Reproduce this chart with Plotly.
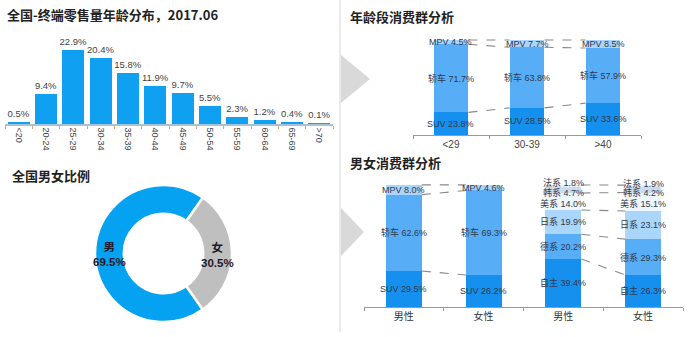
import math
import plotly.graph_objects as go

W, H = 688, 337

# ---------------- data ----------------
age_groups = ['<20', '20-24', '25-29', '30-34', '35-39', '40-44', '45-49',
              '50-54', '55-59', '60-64', '65-69', '>70']
age_share = [0.5, 9.4, 22.9, 20.4, 15.8, 11.9, 9.7, 5.5, 2.3, 1.2, 0.4, 0.1]

seg_groups = ['<29', '30-39', '>40']
seg_suv = [23.8, 28.5, 33.6]
seg_sedan = [71.7, 63.8, 57.9]
seg_mpv = [4.5, 7.7, 8.5]

gender_labels = ['男性', '女性']
gender_suv = [29.5, 26.2]
gender_sedan = [62.6, 69.3]
gender_mpv = [8.0, 4.6]

brand_names = ['自主', '德系', '日系', '美系', '韩系', '法系']
brand_male = [39.4, 20.2, 19.9, 14.0, 4.7, 1.8]
brand_female = [26.3, 29.3, 23.1, 15.1, 4.2, 1.9]

sex_labels = ['男', '女']
sex_share = [69.5, 30.5]

# ---------------- helpers ----------------
def px(x):
    return x / W

def py(y):
    return 1 - y / H

LAT = 'Liberation Sans, Arial, Noto Sans CJK SC, sans-serif'
CJK = 'Noto Sans CJK SC, sans-serif'
C_DARK = '#1690EE'
C_MID = '#58AEF6'
C_LIGHT = '#A9D6FA'
brand_colors = [C_DARK, C_MID, C_LIGHT, '#EEF6FE', '#C9DBEE', '#E6EFF8']
LBL = dict(family=LAT, size=9, color='#33384a')

fig = go.Figure()

# ---------------- panel 1: age distribution ----------------
fig.add_trace(go.Bar(
    x=age_groups, y=age_share, xaxis='x', yaxis='y', width=0.8,
    marker=dict(color='#0FA0F2', line=dict(width=0)),
    text=[f'{v:.1f}%' for v in age_share], textposition='outside', constraintext='none',
    textfont=dict(family=LAT, size=9.5, color='#444'), cliponaxis=False,
    showlegend=False, hoverinfo='skip'))

# ---------------- panel 2: age segment stacked ----------------
bw2 = 0.46
xs2 = list(range(len(seg_groups)))
for name, vals, col in [('SUV', seg_suv, C_DARK), ('轿车', seg_sedan, C_MID), ('MPV', seg_mpv, C_LIGHT)]:
    fig.add_trace(go.Bar(x=xs2, y=vals, xaxis='x2', yaxis='y2', width=bw2,
                         marker=dict(color=col, line=dict(width=0)),
                         name=name, showlegend=False, hoverinfo='skip'))

annotations = []
shapes = []
DASH = dict(color='#888888', width=1.1, dash='dash')

def stack_labels(xpos, names, vals, xref, yref, nudges=None):
    base = 0
    for k, (n, v) in enumerate(zip(names, vals)):
        yc = base + v / 2 + (nudges[k] if nudges else 0)
        annotations.append(dict(x=xpos, y=yc, xref=xref, yref=yref, text=f'{n} {v:.1f}%',
                                showarrow=False, font=LBL, xanchor='center', yanchor='middle'))
        base += v

def connect(x0, x1, levels0, levels1, xref, yref):
    for a, b in zip(levels0, levels1):
        shapes.append(dict(type='line', xref=xref, yref=yref, x0=x0, x1=x1, y0=a, y1=b, line=DASH))

for i in xs2:
    stack_labels(i, ['SUV', '轿车', 'MPV'], [seg_suv[i], seg_sedan[i], seg_mpv[i]], 'x2', 'y2')
for i in xs2[:-1]:
    lv0 = [seg_suv[i], seg_suv[i] + seg_sedan[i], seg_suv[i] + seg_sedan[i] + seg_mpv[i]]
    lv1 = [seg_suv[i + 1], seg_suv[i + 1] + seg_sedan[i + 1],
           seg_suv[i + 1] + seg_sedan[i + 1] + seg_mpv[i + 1]]
    connect(i + bw2 / 2, i + 1 - bw2 / 2, lv0, lv1, 'x2', 'y2')

# ---------------- panel 3: gender segments ----------------
bw3 = 0.45
for name, vals, col in [('SUV', gender_suv, C_DARK), ('轿车', gender_sedan, C_MID), ('MPV', gender_mpv, C_LIGHT)]:
    fig.add_trace(go.Bar(x=[0, 1], y=vals, xaxis='x3', yaxis='y3', width=bw3,
                         marker=dict(color=col, line=dict(width=0)),
                         name=name, showlegend=False, hoverinfo='skip'))
for k, name in enumerate(brand_names):
    fig.add_trace(go.Bar(x=[2, 3], y=[brand_male[k], brand_female[k]], xaxis='x3', yaxis='y3',
                         width=bw3, marker=dict(color=brand_colors[k], line=dict(width=0)),
                         name=name, showlegend=False, hoverinfo='skip'))

for i in range(2):
    stack_labels(i, ['SUV', '轿车', 'MPV'], [gender_suv[i], gender_sedan[i], gender_mpv[i]], 'x3', 'y3')
brand_nudge = [0, 0, 0, -1.5, -2.3, 2.6]
stack_labels(2, brand_names, brand_male, 'x3', 'y3', brand_nudge)
stack_labels(3, brand_names, brand_female, 'x3', 'y3', brand_nudge)

g0 = [gender_suv[0], gender_suv[0] + gender_sedan[0], gender_suv[0] + gender_sedan[0] + gender_mpv[0]]
g1 = [gender_suv[1], gender_suv[1] + gender_sedan[1], gender_suv[1] + gender_sedan[1] + gender_mpv[1]]
connect(bw3 / 2, 1 - bw3 / 2, g0, g1, 'x3', 'y3')

def cum(v):
    out, s = [], 0
    for x in v:
        s += x
        out.append(s)
    return out

cm, cf = cum(brand_male), cum(brand_female)
sel = [0, 1, 2, 3, 5]   # boundaries drawn (skip 韩/法 boundary, too close to top)
connect(2 + bw3 / 2, 3 - bw3 / 2, [cm[j] for j in sel], [cf[j] for j in sel], 'x3', 'y3')

# ---------------- panel 4: donut ----------------
pie_x0, pie_x1, pie_y0, pie_y1 = 95, 232, 185, 322
hole = 0.58
rot = 145
fig.add_trace(go.Pie(
    labels=sex_labels, values=sex_share, hole=hole, sort=False, direction='clockwise',
    rotation=rot, domain=dict(x=[px(pie_x0), px(pie_x1)], y=[py(pie_y1), py(pie_y0)]),
    marker=dict(colors=['#05A2F2', '#BFBFBF'], line=dict(color='white', width=2.5)),
    textinfo='none', showlegend=False, hoverinfo='skip'))

cx, cy = (pie_x0 + pie_x1) / 2, (pie_y0 + pie_y1) / 2
r_out = (pie_x1 - pie_x0) / 2
r_mid = r_out * (1 + hole) / 2
tot = sum(sex_share)
start = rot
for lab, v in zip(sex_labels, sex_share):
    span = v / tot * 360
    a = math.radians(start + span / 2)
    lx, ly = cx + r_mid * math.sin(a), cy - r_mid * math.cos(a)
    annotations.append(dict(x=px(lx), y=py(ly + 1), xref='paper', yref='paper', showarrow=False,
                            text=f'{lab}<br>{v:.1f}%', align='center',
                            font=dict(family=LAT, size=11.5, color='#1a1a2a', weight='bold'),
                            xanchor='center', yanchor='middle'))
    start += span

# ---------------- titles ----------------
TITLE = dict(family=CJK, size=13, color='#222', weight='bold')
for txt, x, y in [('全国-终端零售量年龄分布，2017.06', 5, 15), ('年龄段消费群分析', 348, 17),
                  ('男女消费群分析', 348, 163), ('全国男女比例', 10, 175)]:
    annotations.append(dict(text=txt, x=px(x), y=py(y), xref='paper', yref='paper',
                            xanchor='left', yanchor='middle', showarrow=False, font=TITLE))

# ---------------- decorations ----------------
shapes.append(dict(type='line', xref='paper', yref='paper', x0=px(340), x1=px(340),
                   y0=py(0), y1=py(332), line=dict(color='#E3E3E3', width=1.5)))
for (x0, yt, yb, xa) in [(341, 55, 103, 370), (341, 208, 256, 364)]:
    shapes.append(dict(type='path', xref='paper', yref='paper', fillcolor='#D9D9D9',
                       line=dict(width=0),
                       path=f'M {px(x0)},{py(yt)} L {px(xa)},{py((yt + yb) / 2)} L {px(x0)},{py(yb)} Z'))

# ---------------- axes ----------------
scale1 = 74 / 22.9   # px per percent
# panel 2: baseline 135px, 100% at 40px ; panel 3: baseline 307px, 100% at 185px
p2_base, p2_top = 135, 40
p3_base, p3_top = 307, 185
ymax = 112
p2_ext = p2_base - (p2_base - p2_top) * ymax / 100
p3_ext = p3_base - (p3_base - p3_top) * ymax / 100
fig.update_layout(
    width=W, height=H, autosize=False, margin=dict(l=0, r=0, t=0, b=0),
    paper_bgcolor='white', plot_bgcolor='rgba(0,0,0,0)', barmode='stack',
    annotations=annotations, shapes=shapes,
    xaxis=dict(domain=[px(5), px(333)], anchor='y', type='category', tickangle=90,
               tickfont=dict(family=LAT, size=9, color='#444'), showline=True,
               linecolor='#A9C3D6', linewidth=1.5, ticks='outside', tickson='boundaries',
               ticklen=3, tickcolor='#D9A77A', showgrid=False, zeroline=False, fixedrange=True),
    yaxis=dict(domain=[py(124), py(40)], anchor='x', range=[0, 84 / scale1], visible=False,
               fixedrange=True),
    xaxis2=dict(domain=[px(413), px(641)], anchor='y2', range=[-0.5, 2.5], tickvals=xs2,
                ticktext=seg_groups, ticks='', tickfont=dict(family=LAT, size=10, color='#444'),
                showline=True, linecolor='#9a9a9a', linewidth=1, showgrid=False, zeroline=False,
                minor=dict(tickvals=[-0.5, 0.5, 1.5, 2.5], ticks='outside', ticklen=3,
                           tickcolor='#9a9a9a', showgrid=False)),
    yaxis2=dict(domain=[py(p2_base), py(p2_ext)], anchor='x2', range=[0, ymax], visible=False),
    xaxis3=dict(domain=[px(364), px(683)], anchor='y3', range=[-0.5, 3.5], tickvals=[0, 1, 2, 3],
                ticktext=gender_labels + gender_labels, ticks='',
                tickfont=dict(family=CJK, size=10, color='#333'),
                showline=True, linecolor='#9a9a9a', linewidth=1, showgrid=False, zeroline=False,
                minor=dict(tickvals=[-0.5, 0.5, 1.5, 2.5, 3.5], ticks='outside', ticklen=3,
                           tickcolor='#9a9a9a', showgrid=False)),
    yaxis3=dict(domain=[py(p3_base), py(p3_ext)], anchor='x3', range=[0, ymax], visible=False),
)

fig.write_html('out.html')
